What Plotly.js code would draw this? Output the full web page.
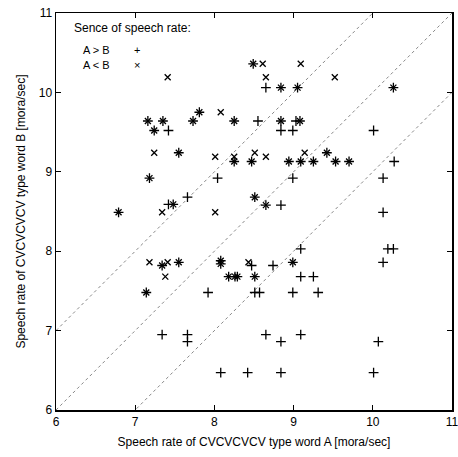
<!DOCTYPE html>
<html>
<head>
<meta charset="utf-8">
<script src="https://cdn.plot.ly/plotly-3.0.1.min.js"></script>
<style>html,body{margin:0;padding:0;background:#fff;}#chart{width:458px;height:457px;}</style>
</head>
<body>
<div id="chart"></div>
<script>
// Points where both judgements occur (drawn as + and x overlaid)
var bothX = [8.49, 8.84, 9.05, 10.26, 7.81, 7.16, 7.35, 7.73, 8.25, 8.84, 9.08, 7.24, 7.55, 9.42, 8.25, 8.47, 8.94, 9.09, 9.25, 9.53, 9.70, 7.18, 8.51, 8.65, 7.48, 6.79, 7.34, 7.55, 8.08, 8.08, 8.99, 8.18, 8.26, 8.29, 8.51, 7.14];
var bothY = [10.36, 10.06, 10.06, 10.06, 9.75, 9.64, 9.64, 9.64, 9.64, 9.64, 9.64, 9.52, 9.24, 9.24, 9.13, 9.13, 9.13, 9.13, 9.13, 9.13, 9.13, 8.92, 8.68, 8.58, 8.59, 8.49, 7.82, 7.86, 7.88, 7.84, 7.86, 7.68, 7.68, 7.68, 7.68, 7.48];

// A > B only
var gtX = [8.65, 8.55, 9.03, 7.42, 8.84, 8.99, 10.01, 10.27, 8.04, 8.99, 10.13, 7.66, 7.42, 8.84, 10.13, 9.09, 10.19, 10.26, 8.47, 8.74, 10.13, 9.09, 9.25, 7.92, 8.51, 8.57, 8.99, 9.31, 7.34, 7.66, 7.66, 8.65, 8.84, 9.09, 10.07, 8.08, 8.42, 8.84, 10.01];
var gtY = [10.06, 9.64, 9.64, 9.52, 9.52, 9.52, 9.52, 9.13, 8.92, 8.92, 8.92, 8.68, 8.59, 8.58, 8.49, 8.03, 8.03, 8.03, 7.82, 7.82, 7.86, 7.68, 7.68, 7.48, 7.48, 7.48, 7.48, 7.48, 6.95, 6.95, 6.86, 6.95, 6.86, 6.95, 6.86, 6.47, 6.47, 6.47, 6.47];

// A < B only
var ltX = [8.61, 9.09, 7.41, 8.65, 9.52, 8.08, 7.24, 8.01, 8.25, 8.51, 8.65, 9.14, 7.34, 8.01, 7.18, 7.41, 8.43, 7.38];
var ltY = [10.36, 10.36, 10.19, 10.19, 10.19, 9.75, 9.24, 9.19, 9.19, 9.24, 9.19, 9.24, 8.49, 8.49, 7.86, 7.86, 7.86, 7.68];

var diagOffsets = [1, 0, -1];
var axisRange = [6, 11];
var tickVals = [6, 7, 8, 9, 10, 11];

var traces = [];
diagOffsets.forEach(function (off) {
  traces.push({
    type: 'scatter', mode: 'lines',
    x: axisRange, y: axisRange.map(function (v) { return v + off; }),
    line: {color: '#888', width: 1, dash: 'dot'},
    hoverinfo: 'skip', showlegend: false
  });
});
traces.push({
  type: 'scatter', mode: 'markers', name: 'A > B',
  x: gtX.concat(bothX), y: gtY.concat(bothY),
  marker: {symbol: 'cross-thin-open', size: 7, color: '#000', line: {color: '#000', width: 1.3}},
  showlegend: false, cliponaxis: false
});
traces.push({
  type: 'scatter', mode: 'markers', name: 'A < B',
  x: ltX.concat(bothX), y: ltY.concat(bothY),
  marker: {symbol: 'x-thin-open', size: 6, color: '#000', line: {color: '#000', width: 1.3}},
  showlegend: false, cliponaxis: false
});

var font = {family: 'Liberation Sans, Arial, sans-serif', size: 12, color: '#000'};
var legFont = {family: 'Liberation Sans, Arial, sans-serif', size: 11, color: '#000'};
var axisBase = {
  range: axisRange, tickvals: tickVals, ticks: 'inside', ticklen: 5, tickwidth: 1,
  tickcolor: '#000', showline: true, linecolor: '#000', linewidth: 1.5, mirror: 'ticks',
  showgrid: false, zeroline: false, tickfont: font, fixedrange: true,
  ticklabeloverflow: 'allow'
};

var layout = {
  width: 458, height: 457,
  margin: {l: 56, r: 6, t: 13, b: 47},
  paper_bgcolor: '#fff', plot_bgcolor: '#fff',
  font: font,
  xaxis: Object.assign({}, axisBase, {
    title: {text: 'Speech rate of CVCVCVCV type word A [mora/sec]', font: font, standoff: 9}
  }),
  yaxis: Object.assign({}, axisBase, {
    title: {text: 'Speech rate of CVCVCVCV type word B [mora/sec]', font: font, standoff: 10}
  }),
  annotations: [
    {xref: 'paper', yref: 'paper', x: 0.04, y: 0.962, xanchor: 'left', yanchor: 'middle', text: 'Sence of speech rate:', showarrow: false, font: font},
    {xref: 'paper', yref: 'paper', x: 0.064, y: 0.906, xanchor: 'left', yanchor: 'middle', text: 'A &gt; B', showarrow: false, font: legFont},
    {xref: 'paper', yref: 'paper', x: 0.064, y: 0.869, xanchor: 'left', yanchor: 'middle', text: 'A &lt; B', showarrow: false, font: legFont},
    {xref: 'paper', yref: 'paper', x: 0.204, y: 0.906, xanchor: 'center', yanchor: 'middle', text: '+', showarrow: false, font: legFont},
    {xref: 'paper', yref: 'paper', x: 0.204, y: 0.869, xanchor: 'center', yanchor: 'middle', text: '×', showarrow: false, font: legFont}
  ]
};

Plotly.newPlot('chart', traces, layout, {staticPlot: true, displayModeBar: false});
</script>
</body>
</html>
